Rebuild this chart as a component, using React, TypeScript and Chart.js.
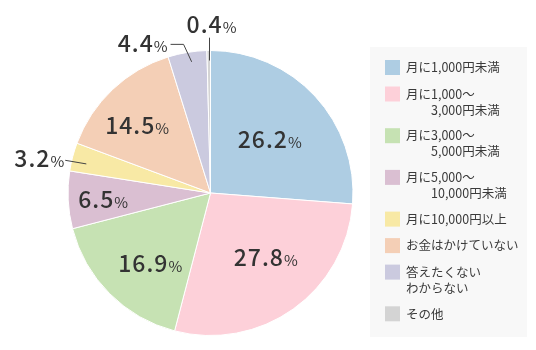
import React, { useEffect, useRef } from 'react';
import { Chart, registerables } from 'chart.js';

Chart.register(...registerables);

const categories = [
  '月に1,000円未満',
  '月に1,000～\n　　3,000円未満',
  '月に3,000～\n　　5,000円未満',
  '月に5,000～\n　　10,000円未満',
  '月に10,000円以上',
  'お金はかけていない',
  '答えたくない\nわからない',
  'その他',
];
const values = [26.2, 27.8, 16.9, 6.5, 3.2, 14.5, 4.4, 0.4];
const colors = ['#aecde3', '#fdd0d9', '#c6e2b3', '#dabfd2', '#f8e9a5', '#f4cfb6', '#cbcadf', '#d4d4d4'];

const FONT = "'Noto Sans CJK JP', 'Noto Sans', sans-serif";
const TEXT = '#333333';

const insideSpec: Record<number, { f: number; da: number }> = {
  0: { f: 0.558, da: 0.9 },
  1: { f: 0.594, da: -5.2 },
  2: { f: 0.649, da: -4.4 },
  3: { f: 0.755, da: -0.9 },
  5: { f: 0.698, da: -4.1 },
};

function drawValue(ctx: CanvasRenderingContext2D, v: number, x: number, cy: number, align: 'center' | 'right') {
  const num = v.toFixed(1);
  ctx.save();
  (ctx as any).letterSpacing = '1px';
  ctx.font = `500 23px ${FONT}`;
  const wn = ctx.measureText(num).width;
  ctx.font = `400 15px ${FONT}`;
  (ctx as any).letterSpacing = '0px';
  const wp = ctx.measureText('%').width;
  const w = wn + wp;
  let x0 = align === 'center' ? x - w / 2 : x - w;
  const base = cy + 8.5;
  ctx.fillStyle = TEXT;
  ctx.textAlign = 'left';
  ctx.textBaseline = 'alphabetic';
  (ctx as any).letterSpacing = '1px';
  ctx.font = `500 23px ${FONT}`;
  ctx.fillText(num, x0, base);
  (ctx as any).letterSpacing = '0px';
  ctx.font = `400 15px ${FONT}`;
  ctx.fillText('%', x0 + wn, base);
  ctx.restore();
}

const labelPlugin = {
  id: 'pieLabels',
  afterDatasetsDraw(chart: any) {
    const ctx: CanvasRenderingContext2D = chart.ctx;
    const meta = chart.getDatasetMeta(0);
    const rad = Math.PI / 180;
    meta.data.forEach((arc: any, i: number) => {
      const { x, y, startAngle, endAngle, outerRadius } = arc.getProps(['x', 'y', 'startAngle', 'endAngle', 'outerRadius'], true);
      const mid = (startAngle + endAngle) / 2;
      const pt = (f: number, da: number) => ({
        x: x + outerRadius * f * Math.cos(mid + da * rad),
        y: y + outerRadius * f * Math.sin(mid + da * rad),
      });
      const v = values[i];
      if (insideSpec[i]) {
        const s = insideSpec[i];
        const p = pt(s.f, s.da);
        drawValue(ctx, v, p.x, p.y, 'center');
        return;
      }
      ctx.save();
      ctx.strokeStyle = '#444';
      ctx.lineWidth = 1;
      if (i === 4) {
        const p1 = pt(0.895, -1.5);
        const p2 = pt(1.045, -2);
        ctx.beginPath();
        ctx.moveTo(p1.x, p1.y);
        ctx.lineTo(p2.x, p2.y);
        ctx.stroke();
        drawValue(ctx, v, p2.x - 1, p2.y - 2, 'right');
      } else if (i === 6) {
        const p1 = pt(0.93, 1.2);
        const p2 = pt(1.06, -0.9);
        ctx.beginPath();
        ctx.moveTo(p1.x, p1.y);
        ctx.lineTo(p2.x, p2.y);
        ctx.lineTo(p2.x - 13, p2.y);
        ctx.stroke();
        drawValue(ctx, v, p2.x - 16, p2.y - 1, 'right');
      } else if (i === 7) {
        const p1 = pt(0.93, 0);
        const p2 = pt(1.09, 0);
        ctx.beginPath();
        ctx.moveTo(Math.round(p1.x) + 0.5, p1.y);
        ctx.lineTo(Math.round(p2.x) + 0.5, p2.y);
        ctx.stroke();
        drawValue(ctx, v, p2.x + 3, p2.y - 13, 'center');
      }
      ctx.restore();
    });
  },
  afterDraw(chart: any) {
    const ctx: CanvasRenderingContext2D = chart.ctx;
    ctx.save();
    ctx.fillStyle = '#f8f8f8';
    ctx.fillRect(370, 47, 157, 290);
    let top = 60;
    categories.forEach((cat, i) => {
      const lines = cat.split('\n');
      ctx.fillStyle = colors[i];
      ctx.fillRect(385, top, 15, 15);
      ctx.fillStyle = '#3a3a3a';
      ctx.font = `12.5px ${FONT}`;
      ctx.textAlign = 'left';
      ctx.textBaseline = 'middle';
      lines.forEach((ln, j) => {
        ctx.fillText(ln, 406, top + 7.5 + j * 16);
      });
      top += 26.5 + 15.2 * (lines.length - 1);
    });
    ctx.restore();
  },
};

export default function App() {
  const ref = useRef<HTMLCanvasElement | null>(null);
  useEffect(() => {
    document.body.style.margin = '0';
    const canvas = ref.current;
    if (!canvas) return;
    const chart = new Chart(canvas, {
      type: 'pie',
      data: {
        labels: categories,
        datasets: [
          {
            data: values,
            backgroundColor: colors,
            borderColor: '#ffffff',
            borderWidth: 1,
          },
        ],
      },
      options: {
        responsive: false,
        animation: false,
        layout: { padding: { left: 67, right: 182, top: 50, bottom: 14 } },
        plugins: {
          legend: { display: false },
          tooltip: { enabled: false },
        },
      },
      plugins: [labelPlugin],
    });
    return () => chart.destroy();
  }, []);
  return (
    <div style={{ width: 536, height: 350, background: '#fff' }}>
      <canvas ref={ref} width={536} height={350} />
    </div>
  );
}
